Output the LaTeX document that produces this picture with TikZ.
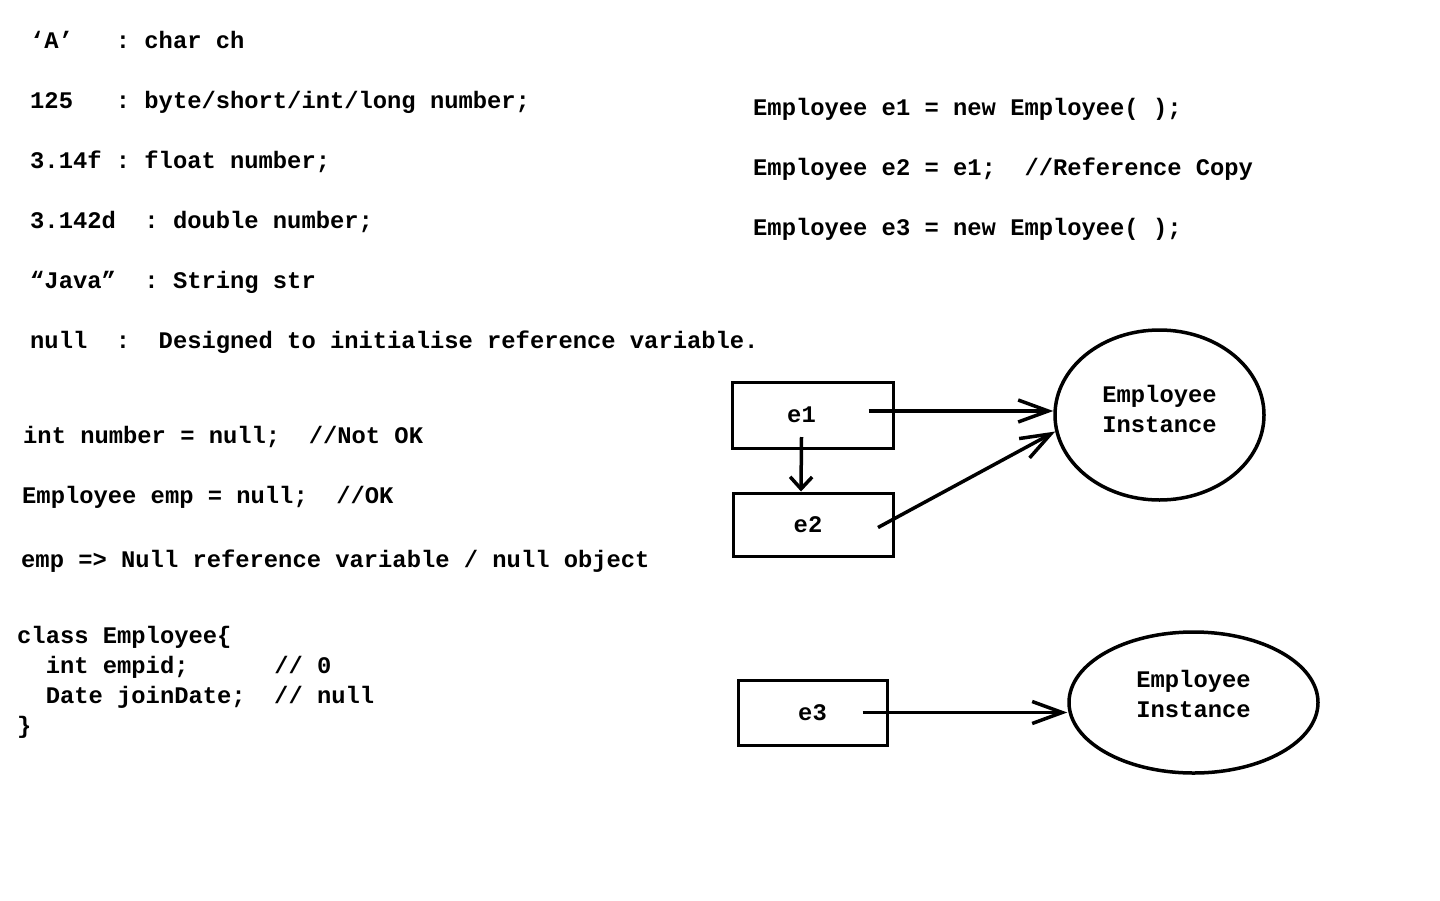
\documentclass[tikz,border=0pt]{standalone}
\usepackage{fontspec}
\usetikzlibrary{arrows.meta,shapes.geometric}
\newfontfamily\codefont{Liberation Mono}
\newcommand{\codetext}{\codefont\bfseries\fontsize{23.8}{30}\selectfont\frenchspacing}
\tikzset{
  txt/.style={anchor=base west, inner sep=0pt, font=\codetext},
  refbox/.style={draw, line width=3pt, inner sep=0pt, font=\codetext},
  inst/.style={draw, ellipse, line width=3.5pt, inner sep=0pt, align=center, font=\codetext},
  ptr/.style={line width=3.5pt, -{Straight Barb[length=30pt,width=22pt,line width=3.5pt]}},
  ptrshort/.style={line width=3.5pt, -{Straight Barb[length=12pt,width=22pt,line width=3.5pt]}}
}
\begin{document}
\begin{tikzpicture}[x=1pt,y=-1pt]
\useasboundingbox[fill=white] (0,0) rectangle (1440,900);

% literals
\node[txt] (l1) at (30,48.5) {‘A’~~~: char ch};
\node[txt] (l2) at (30,108.5) {125~~~: byte/short/int/long number;};
\node[txt] (l3) at (30,168.5) {3.14f : float number;};
\node[txt] (l4) at (30,228.5) {3.142d~~: double number;};
\node[txt] (l5) at (30,288.5) {“Java”~~: String str};
\node[txt] (l6) at (30,348.5) {null~~:~~Designed to initialise reference variable.};

% null assignments
\node[txt] (n1) at (23,443.5) {int number = null;~~//Not OK};
\node[txt] (n2) at (22,503.5) {Employee emp = null;~~//OK};
\node[txt] (n3) at (21,567.5) {emp => Null reference variable / null object};

% class definition
\node[txt] (c1) at (17,643.5) {class Employee\{};
\node[txt] (c2) at (17,673.5) {~~int empid;~~~~~~// 0};
\node[txt] (c3) at (17,703.5) {~~Date joinDate;~~// null};
\node[txt] (c4) at (17,733.5) {\}};

% reference declarations
\node[txt] (r1) at (753,115.5) {Employee e1 = new Employee( );};
\node[txt] (r2) at (753,175.5) {Employee e2 = e1;~~//Reference Copy};
\node[txt] (r3) at (753,235.5) {Employee e3 = new Employee( );};

% references and objects
\node[refbox, minimum width=161pt, minimum height=66pt] (e1) at (812.5,415) {e1\hspace*{22pt}};
\node[refbox, minimum width=160pt, minimum height=63pt] (e2) at (813,524.5) {e2\hspace*{10pt}};
\node[refbox, minimum width=149pt, minimum height=65pt] (e3) at (812.5,712.5) {e3};
\node[inst, minimum width=209pt, minimum height=170pt] (o1) at (1159.5,415) {Employee\\Instance\\[-27pt]\strut};
\node[inst, minimum width=249pt, minimum height=141pt] (o2) at (1193.5,702.5) {Employee\\Instance\\[-22pt]\strut};

% pointers
\draw[ptr] ([shift={(56pt,4pt)}]e1.center) -- ([yshift=4pt]o1.west);
\draw[ptr] ([shift={(65pt,-3pt)}]e2.center) -- (o1.189);
\draw[ptrshort] ([shift={(-11pt,-22pt)}]e1.center) -- ([xshift=-12pt]e2.north);
\draw[ptr] ([xshift=50pt]e3.center) -- (e3.center -| o2.west);
\end{tikzpicture}
\end{document}
